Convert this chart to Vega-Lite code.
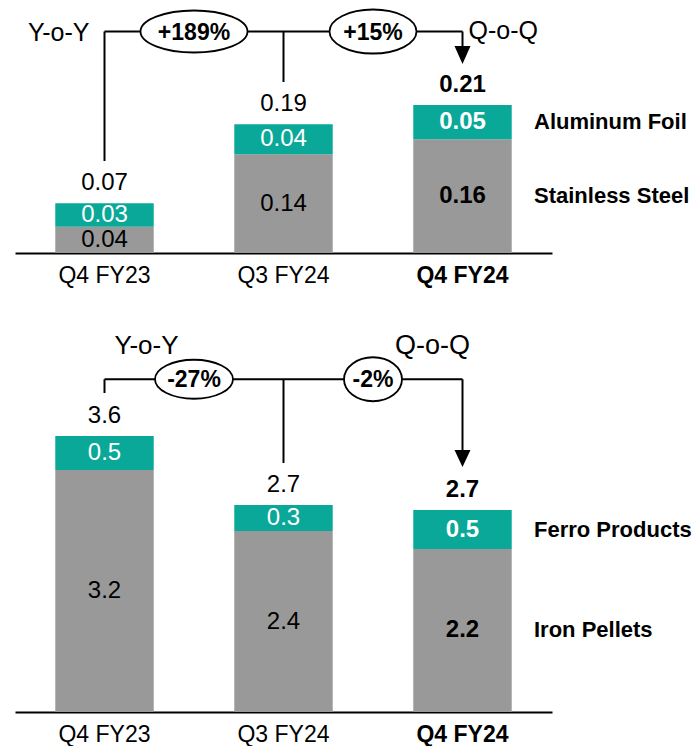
{
  "$schema": "https://vega.github.io/schema/vega-lite/v6.json",
  "padding": 0,
  "background": "white",
  "config": {"view": {"stroke": null}, "font": "Liberation Sans"},
  "spacing": 77,
  "bounds": "flush",
  "resolve": {"scale": {"x": "independent", "y": "independent", "color": "independent", "shape": "independent"}},
  "datasets": {
    "top": [
      {"quarter": "Q4 FY23", "segment": "Stainless Steel", "value": 0.0376, "label": "0.04"},
      {"quarter": "Q4 FY23", "segment": "Aluminum Foil", "value": 0.0334, "label": "0.03"},
      {"quarter": "Q3 FY24", "segment": "Stainless Steel", "value": 0.141, "label": "0.14"},
      {"quarter": "Q3 FY24", "segment": "Aluminum Foil", "value": 0.0429, "label": "0.04"},
      {"quarter": "Q4 FY24", "segment": "Stainless Steel", "value": 0.1624, "label": "0.16"},
      {"quarter": "Q4 FY24", "segment": "Aluminum Foil", "value": 0.049, "label": "0.05"}
    ],
    "topTotals": [
      {"quarter": "Q4 FY23", "total": 0.071, "label": "0.07"},
      {"quarter": "Q3 FY24", "total": 0.1839, "label": "0.19"},
      {"quarter": "Q4 FY24", "total": 0.2114, "label": "0.21"}
    ],
    "bottom": [
      {"quarter": "Q4 FY23", "segment": "Iron Pellets", "value": 3.205, "label": "3.2"},
      {"quarter": "Q4 FY23", "segment": "Ferro Products", "value": 0.451, "label": "0.5"},
      {"quarter": "Q3 FY24", "segment": "Iron Pellets", "value": 2.397, "label": "2.4"},
      {"quarter": "Q3 FY24", "segment": "Ferro Products", "value": 0.345, "label": "0.3"},
      {"quarter": "Q4 FY24", "segment": "Iron Pellets", "value": 2.159, "label": "2.2"},
      {"quarter": "Q4 FY24", "segment": "Ferro Products", "value": 0.516, "label": "0.5"}
    ],
    "bottomTotals": [
      {"quarter": "Q4 FY23", "total": 3.656, "label": "3.6"},
      {"quarter": "Q3 FY24", "total": 2.742, "label": "2.7"},
      {"quarter": "Q4 FY24", "total": 2.675, "label": "2.7"}
    ]
  },
  "vconcat": [
    {
      "width": 695,
      "height": 253,
      "layer": [
        {
          "data": {"name": "top"},
          "transform": [{"stack": "value", "groupby": ["quarter"], "sort": [{"field": "segment", "order": "descending"}], "as": ["v0", "v1"]}],
          "mark": {"type": "bar"},
          "encoding": {
            "x": {"field": "quarter", "type": "nominal", "title": null,
              "scale": {"domain": ["Q4 FY23", "Q3 FY24", "Q4 FY24"], "range": [15, 552], "paddingInner": 0.45, "paddingOuter": 0.225},
              "axis": {"domain": true, "domainColor": "#000000", "domainWidth": 2, "ticks": false, "grid": false, "labelAngle": 0, "labelFontSize": 23, "labelColor": "#000000", "labelPadding": 11, "labelFont": "Liberation Sans",
                "labelFontWeight": {"condition": {"test": "datum.value === 'Q4 FY24'", "value": "bold"}, "value": "normal"}}},
            "y": {"field": "v1", "type": "quantitative", "scale": {"domain": [0, 0.36143], "nice": false}, "axis": null},
            "y2": {"field": "v0"},
            "color": {"field": "segment", "type": "nominal", "scale": {"domain": ["Stainless Steel", "Aluminum Foil"], "range": ["#999999", "#0AA899"]}, "legend": null}
          }
        },
        {
          "data": {"name": "top"},
          "transform": [
            {"stack": "value", "groupby": ["quarter"], "sort": [{"field": "segment", "order": "descending"}], "as": ["v0", "v1"]},
            {"calculate": "(datum.v0 + datum.v1) / 2", "as": "mid"},
            {"filter": "datum.quarter !== 'Q4 FY24'"}
          ],
          "mark": {"type": "text", "fontSize": 24, "baseline": "middle"},
          "encoding": {
            "x": {"field": "quarter", "type": "nominal", "title": null, "scale": {"domain": ["Q4 FY23", "Q3 FY24", "Q4 FY24"], "range": [15, 552], "paddingInner": 0.45, "paddingOuter": 0.225}},
            "y": {"field": "mid", "type": "quantitative", "scale": {"domain": [0, 0.36143], "nice": false}, "axis": null},
            "text": {"field": "label"},
            "color": {"condition": {"test": "datum.segment === 'Aluminum Foil'", "value": "white"}, "value": "black"}
          }
        },
        {
          "data": {"name": "top"},
          "transform": [
            {"stack": "value", "groupby": ["quarter"], "sort": [{"field": "segment", "order": "descending"}], "as": ["v0", "v1"]},
            {"calculate": "(datum.v0 + datum.v1) / 2", "as": "mid"},
            {"filter": "datum.quarter === 'Q4 FY24'"}
          ],
          "mark": {"type": "text", "fontSize": 24, "fontWeight": "bold", "baseline": "middle"},
          "encoding": {
            "x": {"field": "quarter", "type": "nominal", "title": null, "scale": {"domain": ["Q4 FY23", "Q3 FY24", "Q4 FY24"], "range": [15, 552], "paddingInner": 0.45, "paddingOuter": 0.225}},
            "y": {"field": "mid", "type": "quantitative", "scale": {"domain": [0, 0.36143], "nice": false}, "axis": null},
            "text": {"field": "label"},
            "color": {"condition": {"test": "datum.segment === 'Aluminum Foil'", "value": "white"}, "value": "black"}
          }
        },
        {
          "data": {"name": "top"},
          "transform": [
            {"stack": "value", "groupby": ["quarter"], "sort": [{"field": "segment", "order": "descending"}], "as": ["v0", "v1"]},
            {"calculate": "(datum.v0 + datum.v1) / 2", "as": "mid"},
            {"filter": "datum.quarter === 'Q4 FY24'"}
          ],
          "mark": {"type": "text", "fontSize": 22, "fontWeight": "bold", "baseline": "middle", "align": "left", "dx": 71.5, "color": "black"},
          "encoding": {
            "x": {"field": "quarter", "type": "nominal", "title": null, "scale": {"domain": ["Q4 FY23", "Q3 FY24", "Q4 FY24"], "range": [15, 552], "paddingInner": 0.45, "paddingOuter": 0.225}},
            "y": {"field": "mid", "type": "quantitative", "scale": {"domain": [0, 0.36143], "nice": false}, "axis": null},
            "text": {"field": "segment"}
          }
        },
        {
          "data": {"name": "topTotals"},
          "transform": [{"filter": "datum.quarter !== 'Q4 FY24'"}],
          "mark": {"type": "text", "fontSize": 24, "baseline": "middle", "dy": -20, "color": "black"},
          "encoding": {
            "x": {"field": "quarter", "type": "nominal", "title": null, "scale": {"domain": ["Q4 FY23", "Q3 FY24", "Q4 FY24"], "range": [15, 552], "paddingInner": 0.45, "paddingOuter": 0.225}},
            "y": {"field": "total", "type": "quantitative", "scale": {"domain": [0, 0.36143], "nice": false}, "axis": null},
            "text": {"field": "label"}
          }
        },
        {
          "data": {"name": "topTotals"},
          "transform": [{"filter": "datum.quarter === 'Q4 FY24'"}],
          "mark": {"type": "text", "fontSize": 24, "fontWeight": "bold", "baseline": "middle", "dy": -20, "color": "black"},
          "encoding": {
            "x": {"field": "quarter", "type": "nominal", "title": null, "scale": {"domain": ["Q4 FY23", "Q3 FY24", "Q4 FY24"], "range": [15, 552], "paddingInner": 0.45, "paddingOuter": 0.225}},
            "y": {"field": "total", "type": "quantitative", "scale": {"domain": [0, 0.36143], "nice": false}, "axis": null},
            "text": {"field": "label"}
          }
        },
        {
          "data": {"values": [
            {"quarter": "Q4 FY23", "top": 0.3164, "bottom": 0.1314},
            {"quarter": "Q3 FY24", "top": 0.3164, "bottom": 0.2443},
            {"quarter": "Q4 FY24", "top": 0.3164, "bottom": 0.285}
          ]},
          "mark": {"type": "rule", "color": "black", "strokeWidth": 2},
          "encoding": {
            "x": {"field": "quarter", "type": "nominal", "title": null, "scale": {"domain": ["Q4 FY23", "Q3 FY24", "Q4 FY24"], "range": [15, 552], "paddingInner": 0.45, "paddingOuter": 0.225}},
            "y": {"field": "top", "type": "quantitative", "scale": {"domain": [0, 0.36143], "nice": false}, "axis": null},
            "y2": {"field": "bottom"}
          }
        },
        {
          "data": {"values": [{"from": "Q4 FY23", "to": "Q4 FY24", "level": 0.3164}]},
          "mark": {"type": "rule", "color": "black", "strokeWidth": 2},
          "encoding": {
            "x": {"field": "from", "type": "nominal", "title": null, "scale": {"domain": ["Q4 FY23", "Q3 FY24", "Q4 FY24"], "range": [15, 552], "paddingInner": 0.45, "paddingOuter": 0.225}},
            "x2": {"field": "to"},
            "y": {"field": "level", "type": "quantitative", "scale": {"domain": [0, 0.36143], "nice": false}, "axis": null}
          }
        },
        {
          "data": {"values": [{"quarter": "Q4 FY24", "tip": 0.27}]},
          "mark": {"type": "point", "shape": "M-8,-18L8,-18L0,0Z", "size": 4, "filled": true, "color": "black", "opacity": 1},
          "encoding": {
            "x": {"field": "quarter", "type": "nominal", "title": null, "scale": {"domain": ["Q4 FY23", "Q3 FY24", "Q4 FY24"], "range": [15, 552], "paddingInner": 0.45, "paddingOuter": 0.225}},
            "y": {"field": "tip", "type": "quantitative", "scale": {"domain": [0, 0.36143], "nice": false}, "axis": null}
          }
        },
        {
          "data": {"values": [
            {"from": "Q4 FY23", "change": "+189%", "level": 0.3164},
            {"from": "Q3 FY24", "change": "+15%", "level": 0.3164}
          ]},
          "mark": {"type": "point", "size": 4, "filled": true, "fill": "white", "stroke": "black", "strokeWidth": 1.8, "opacity": 1, "fillOpacity": 1, "strokeOpacity": 1},
          "encoding": {
            "x": {"field": "from", "type": "nominal", "title": null, "bandPosition": 1.409, "scale": {"domain": ["Q4 FY23", "Q3 FY24", "Q4 FY24"], "range": [15, 552], "paddingInner": 0.45, "paddingOuter": 0.225}},
            "y": {"field": "level", "type": "quantitative", "scale": {"domain": [0, 0.36143], "nice": false}, "axis": null},
            "shape": {"field": "change", "type": "nominal", "legend": null,
              "scale": {"domain": ["+189%", "+15%"], "range": ["M-53.5,0A53.5,21,0,1,1,53.5,0A53.5,21,0,1,1,-53.5,0Z", "M-43.5,0A43.5,22,0,1,1,43.5,0A43.5,22,0,1,1,-43.5,0Z"]}}
          }
        },
        {
          "data": {"values": [
            {"from": "Q4 FY23", "change": "+189%", "level": 0.3164},
            {"from": "Q3 FY24", "change": "+15%", "level": 0.3164}
          ]},
          "mark": {"type": "text", "fontSize": 23, "fontWeight": "bold", "baseline": "middle", "dy": 1, "color": "black"},
          "encoding": {
            "x": {"field": "from", "type": "nominal", "title": null, "bandPosition": 1.409, "scale": {"domain": ["Q4 FY23", "Q3 FY24", "Q4 FY24"], "range": [15, 552], "paddingInner": 0.45, "paddingOuter": 0.225}},
            "y": {"field": "level", "type": "quantitative", "scale": {"domain": [0, 0.36143], "nice": false}, "axis": null},
            "text": {"field": "change"}
          }
        },
        {
          "data": {"values": [{"quarter": "Q4 FY23", "level": 0.3164, "t": "Y-o-Y"}]},
          "mark": {"type": "text", "fontSize": 25, "baseline": "middle", "align": "right", "dx": -15, "dy": 1, "color": "black"},
          "encoding": {
            "x": {"field": "quarter", "type": "nominal", "title": null, "scale": {"domain": ["Q4 FY23", "Q3 FY24", "Q4 FY24"], "range": [15, 552], "paddingInner": 0.45, "paddingOuter": 0.225}},
            "y": {"field": "level", "type": "quantitative", "scale": {"domain": [0, 0.36143], "nice": false}, "axis": null},
            "text": {"field": "t"}
          }
        },
        {
          "data": {"values": [{"quarter": "Q4 FY24", "level": 0.3164, "t": "Q-o-Q"}]},
          "mark": {"type": "text", "fontSize": 25, "baseline": "middle", "align": "left", "dx": 6, "dy": -1, "color": "black"},
          "encoding": {
            "x": {"field": "quarter", "type": "nominal", "title": null, "scale": {"domain": ["Q4 FY23", "Q3 FY24", "Q4 FY24"], "range": [15, 552], "paddingInner": 0.45, "paddingOuter": 0.225}},
            "y": {"field": "level", "type": "quantitative", "scale": {"domain": [0, 0.36143], "nice": false}, "axis": null},
            "text": {"field": "t"}
          }
        }
      ]
    },
    {
      "width": 695,
      "height": 382,
      "layer": [
        {
          "data": {"name": "bottom"},
          "transform": [{"stack": "value", "groupby": ["quarter"], "sort": [{"field": "segment", "order": "descending"}], "as": ["v0", "v1"]}],
          "mark": {"type": "bar"},
          "encoding": {
            "x": {"field": "quarter", "type": "nominal", "title": null,
              "scale": {"domain": ["Q4 FY23", "Q3 FY24", "Q4 FY24"], "range": [15, 552], "paddingInner": 0.45, "paddingOuter": 0.225},
              "axis": {"domain": true, "domainColor": "#000000", "domainWidth": 2, "ticks": false, "grid": false, "labelAngle": 0, "labelFontSize": 23, "labelColor": "#000000", "labelPadding": 11, "labelFont": "Liberation Sans",
                "labelFontWeight": {"condition": {"test": "datum.value === 'Q4 FY24'", "value": "bold"}, "value": "normal"}}},
            "y": {"field": "v1", "type": "quantitative", "scale": {"domain": [0, 5.0596], "nice": false}, "axis": null},
            "y2": {"field": "v0"},
            "color": {"field": "segment", "type": "nominal", "scale": {"domain": ["Iron Pellets", "Ferro Products"], "range": ["#999999", "#0AA899"]}, "legend": null}
          }
        },
        {
          "data": {"name": "bottom"},
          "transform": [
            {"stack": "value", "groupby": ["quarter"], "sort": [{"field": "segment", "order": "descending"}], "as": ["v0", "v1"]},
            {"calculate": "(datum.v0 + datum.v1) / 2", "as": "mid"},
            {"filter": "datum.quarter !== 'Q4 FY24'"}
          ],
          "mark": {"type": "text", "fontSize": 24, "baseline": "middle"},
          "encoding": {
            "x": {"field": "quarter", "type": "nominal", "title": null, "scale": {"domain": ["Q4 FY23", "Q3 FY24", "Q4 FY24"], "range": [15, 552], "paddingInner": 0.45, "paddingOuter": 0.225}},
            "y": {"field": "mid", "type": "quantitative", "scale": {"domain": [0, 5.0596], "nice": false}, "axis": null},
            "text": {"field": "label"},
            "color": {"condition": {"test": "datum.segment === 'Ferro Products'", "value": "white"}, "value": "black"}
          }
        },
        {
          "data": {"name": "bottom"},
          "transform": [
            {"stack": "value", "groupby": ["quarter"], "sort": [{"field": "segment", "order": "descending"}], "as": ["v0", "v1"]},
            {"calculate": "(datum.v0 + datum.v1) / 2", "as": "mid"},
            {"filter": "datum.quarter === 'Q4 FY24'"}
          ],
          "mark": {"type": "text", "fontSize": 24, "fontWeight": "bold", "baseline": "middle"},
          "encoding": {
            "x": {"field": "quarter", "type": "nominal", "title": null, "scale": {"domain": ["Q4 FY23", "Q3 FY24", "Q4 FY24"], "range": [15, 552], "paddingInner": 0.45, "paddingOuter": 0.225}},
            "y": {"field": "mid", "type": "quantitative", "scale": {"domain": [0, 5.0596], "nice": false}, "axis": null},
            "text": {"field": "label"},
            "color": {"condition": {"test": "datum.segment === 'Ferro Products'", "value": "white"}, "value": "black"}
          }
        },
        {
          "data": {"name": "bottom"},
          "transform": [
            {"stack": "value", "groupby": ["quarter"], "sort": [{"field": "segment", "order": "descending"}], "as": ["v0", "v1"]},
            {"calculate": "(datum.v0 + datum.v1) / 2", "as": "mid"},
            {"filter": "datum.quarter === 'Q4 FY24'"}
          ],
          "mark": {"type": "text", "fontSize": 22, "fontWeight": "bold", "baseline": "middle", "align": "left", "dx": 71.5, "color": "black"},
          "encoding": {
            "x": {"field": "quarter", "type": "nominal", "title": null, "scale": {"domain": ["Q4 FY23", "Q3 FY24", "Q4 FY24"], "range": [15, 552], "paddingInner": 0.45, "paddingOuter": 0.225}},
            "y": {"field": "mid", "type": "quantitative", "scale": {"domain": [0, 5.0596], "nice": false}, "axis": null},
            "text": {"field": "segment"}
          }
        },
        {
          "data": {"name": "bottomTotals"},
          "transform": [{"filter": "datum.quarter !== 'Q4 FY24'"}],
          "mark": {"type": "text", "fontSize": 24, "baseline": "middle", "dy": -20, "color": "black"},
          "encoding": {
            "x": {"field": "quarter", "type": "nominal", "title": null, "scale": {"domain": ["Q4 FY23", "Q3 FY24", "Q4 FY24"], "range": [15, 552], "paddingInner": 0.45, "paddingOuter": 0.225}},
            "y": {"field": "total", "type": "quantitative", "scale": {"domain": [0, 5.0596], "nice": false}, "axis": null},
            "text": {"field": "label"}
          }
        },
        {
          "data": {"name": "bottomTotals"},
          "transform": [{"filter": "datum.quarter === 'Q4 FY24'"}],
          "mark": {"type": "text", "fontSize": 24, "fontWeight": "bold", "baseline": "middle", "dy": -20, "color": "black"},
          "encoding": {
            "x": {"field": "quarter", "type": "nominal", "title": null, "scale": {"domain": ["Q4 FY23", "Q3 FY24", "Q4 FY24"], "range": [15, 552], "paddingInner": 0.45, "paddingOuter": 0.225}},
            "y": {"field": "total", "type": "quantitative", "scale": {"domain": [0, 5.0596], "nice": false}, "axis": null},
            "text": {"field": "label"}
          }
        },
        {
          "data": {"values": [
            {"quarter": "Q4 FY23", "top": 4.407, "bottom": 4.225},
            {"quarter": "Q3 FY24", "top": 4.407, "bottom": 3.298},
            {"quarter": "Q4 FY24", "top": 4.407, "bottom": 3.35}
          ]},
          "mark": {"type": "rule", "color": "black", "strokeWidth": 2},
          "encoding": {
            "x": {"field": "quarter", "type": "nominal", "title": null, "scale": {"domain": ["Q4 FY23", "Q3 FY24", "Q4 FY24"], "range": [15, 552], "paddingInner": 0.45, "paddingOuter": 0.225}},
            "y": {"field": "top", "type": "quantitative", "scale": {"domain": [0, 5.0596], "nice": false}, "axis": null},
            "y2": {"field": "bottom"}
          }
        },
        {
          "data": {"values": [{"from": "Q4 FY23", "to": "Q4 FY24", "level": 4.407}]},
          "mark": {"type": "rule", "color": "black", "strokeWidth": 2},
          "encoding": {
            "x": {"field": "from", "type": "nominal", "title": null, "scale": {"domain": ["Q4 FY23", "Q3 FY24", "Q4 FY24"], "range": [15, 552], "paddingInner": 0.45, "paddingOuter": 0.225}},
            "x2": {"field": "to"},
            "y": {"field": "level", "type": "quantitative", "scale": {"domain": [0, 5.0596], "nice": false}, "axis": null}
          }
        },
        {
          "data": {"values": [{"quarter": "Q4 FY24", "tip": 3.245}]},
          "mark": {"type": "point", "shape": "M-8,-17L8,-17L0,0Z", "size": 4, "filled": true, "color": "black", "opacity": 1},
          "encoding": {
            "x": {"field": "quarter", "type": "nominal", "title": null, "scale": {"domain": ["Q4 FY23", "Q3 FY24", "Q4 FY24"], "range": [15, 552], "paddingInner": 0.45, "paddingOuter": 0.225}},
            "y": {"field": "tip", "type": "quantitative", "scale": {"domain": [0, 5.0596], "nice": false}, "axis": null}
          }
        },
        {
          "data": {"values": [
            {"from": "Q4 FY23", "change": "-27%", "level": 4.407},
            {"from": "Q3 FY24", "change": "-2%", "level": 4.407}
          ]},
          "mark": {"type": "point", "size": 4, "filled": true, "fill": "white", "stroke": "black", "strokeWidth": 1.8, "opacity": 1, "fillOpacity": 1, "strokeOpacity": 1},
          "encoding": {
            "x": {"field": "from", "type": "nominal", "title": null, "bandPosition": 1.409, "scale": {"domain": ["Q4 FY23", "Q3 FY24", "Q4 FY24"], "range": [15, 552], "paddingInner": 0.45, "paddingOuter": 0.225}},
            "y": {"field": "level", "type": "quantitative", "scale": {"domain": [0, 5.0596], "nice": false}, "axis": null},
            "shape": {"field": "change", "type": "nominal", "legend": null,
              "scale": {"domain": ["-27%", "-2%"], "range": ["M-39,0A39,19.5,0,1,1,39,0A39,19.5,0,1,1,-39,0Z", "M-29,0A29,22,0,1,1,29,0A29,22,0,1,1,-29,0Z"]}}
          }
        },
        {
          "data": {"values": [
            {"from": "Q4 FY23", "change": "-27%", "level": 4.407},
            {"from": "Q3 FY24", "change": "-2%", "level": 4.407}
          ]},
          "mark": {"type": "text", "fontSize": 23, "fontWeight": "bold", "baseline": "middle", "dy": 1, "color": "black"},
          "encoding": {
            "x": {"field": "from", "type": "nominal", "title": null, "bandPosition": 1.409, "scale": {"domain": ["Q4 FY23", "Q3 FY24", "Q4 FY24"], "range": [15, 552], "paddingInner": 0.45, "paddingOuter": 0.225}},
            "y": {"field": "level", "type": "quantitative", "scale": {"domain": [0, 5.0596], "nice": false}, "axis": null},
            "text": {"field": "change"}
          }
        },
        {
          "data": {"values": [{"quarter": "Q4 FY23", "level": 4.848, "t": "Y-o-Y"}]},
          "mark": {"type": "text", "fontSize": 26, "baseline": "middle", "align": "center", "dx": 42, "color": "black"},
          "encoding": {
            "x": {"field": "quarter", "type": "nominal", "title": null, "scale": {"domain": ["Q4 FY23", "Q3 FY24", "Q4 FY24"], "range": [15, 552], "paddingInner": 0.45, "paddingOuter": 0.225}},
            "y": {"field": "level", "type": "quantitative", "scale": {"domain": [0, 5.0596], "nice": false}, "axis": null},
            "text": {"field": "t"}
          }
        },
        {
          "data": {"values": [{"quarter": "Q4 FY24", "level": 4.848, "t": "Q-o-Q"}]},
          "mark": {"type": "text", "fontSize": 27, "baseline": "middle", "align": "center", "dx": -30, "color": "black"},
          "encoding": {
            "x": {"field": "quarter", "type": "nominal", "title": null, "scale": {"domain": ["Q4 FY23", "Q3 FY24", "Q4 FY24"], "range": [15, 552], "paddingInner": 0.45, "paddingOuter": 0.225}},
            "y": {"field": "level", "type": "quantitative", "scale": {"domain": [0, 5.0596], "nice": false}, "axis": null},
            "text": {"field": "t"}
          }
        }
      ]
    }
  ]
}
